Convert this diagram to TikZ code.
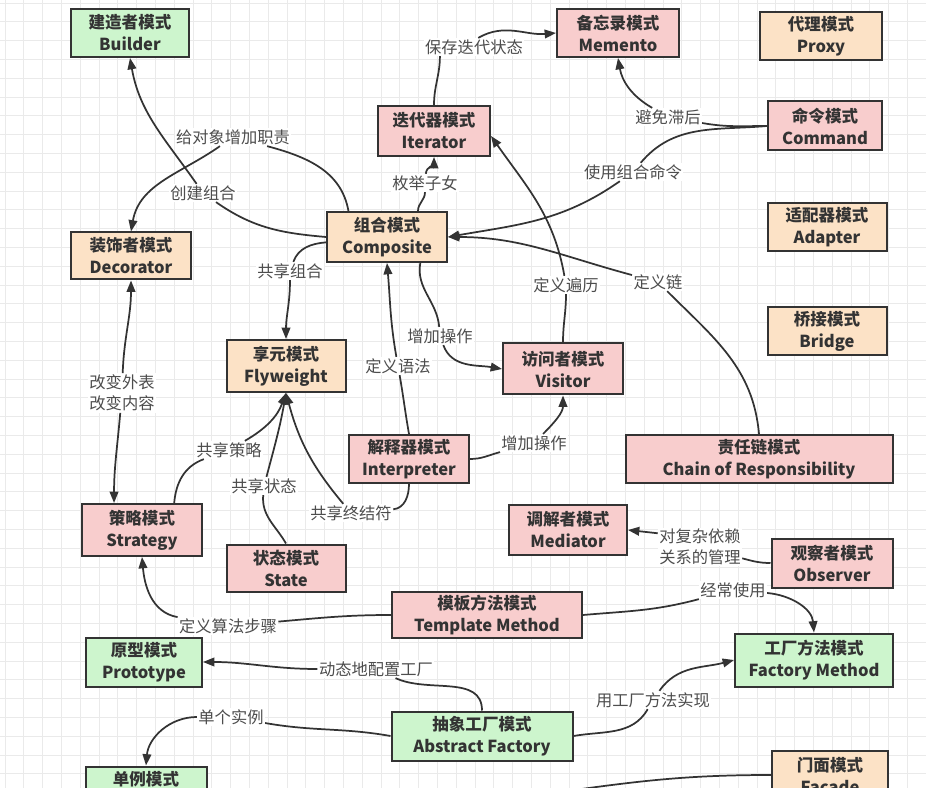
\documentclass[tikz,border=0pt]{standalone}
\usepackage{fontspec}
\setmainfont{Noto Sans CJK SC}
\usepackage{tikz}
\usetikzlibrary{arrows.meta, calc}
\definecolor{pnkfill}{HTML}{F8CDCD}
\definecolor{pchfill}{HTML}{FCE2C6}
\definecolor{grnfill}{HTML}{CDF5CD}
\definecolor{inkgray}{HTML}{333333}
\definecolor{lblgray}{HTML}{4D4D4D}
\definecolor{gridgray}{HTML}{EAEAEA}

\begin{document}
\begin{tikzpicture}[x=0.75pt,y=0.75pt,
  box/.style={draw=inkgray, line width=1.5pt, align=center, inner sep=0pt,
    text=inkgray, font=\bfseries\fontsize{12.4}{16.5}\selectfont},
  lbl/.style={fill=white, inner sep=1pt, align=center, text=lblgray,
    font=\fontsize{12.2}{16}\selectfont},
  link/.style={draw=inkgray, line width=1.3pt},
  arr/.style={link, -{Triangle[length=8.5pt,width=6.5pt]}}]
  % canvas and grid
  \clip (0,0) rectangle (926,-788);
  \fill[white] (0,0) rectangle (926,-788);
  \foreach \gx in {5,23.8,...,926} \draw[gridgray, line width=0.6pt] (\gx,0) -- (\gx,-788);
  \foreach \gy in {3,21.8,...,788} \draw[gridgray, line width=0.6pt] (0,-\gy) -- (926,-\gy);
  % pattern boxes: name/x/y/width/height/fill/chinese/english
  \foreach \nm/\cx/\cy/\w/\h/\col/\zh/\en in {
    build/130/33/118/48/grnfill/建造者模式/Builder,
    memento/618/33/122/48/pnkfill/备忘录模式/Memento,
    proxy/821/36/122/48/pchfill/代理模式/Proxy,
    iter/434/131/112/50/pnkfill/迭代器模式/Iterator,
    command/825/126/114/49/pnkfill/命令模式/Command,
    comp/387/237/120/50/pchfill/组合模式/Composite,
    deco/131/256/120/47/pchfill/装饰者模式/Decorator,
    adapter/827/227/119/48/pchfill/适配器模式/Adapter,
    fly/286/366/119/52/pchfill/享元模式/Flyweight,
    bridge/827/331/119/48/pchfill/桥接模式/Bridge,
    visitor/563/369/120/51/pnkfill/访问者模式/Visitor,
    interp/409/459/120/48/pnkfill/解释器模式/Interpreter,
    chain/759/459/267/48/pnkfill/责任链模式/Chain of Responsibility,
    strat/142/530/120/52/pnkfill/策略模式/Strategy,
    state/286/568/119/47/pnkfill/状态模式/State,
    medi/568/530/118/50/pnkfill/调解者模式/Mediator,
    obs/832/563/121/49/pnkfill/观察者模式/Observer,
    tmpl/487/615/190/46/pnkfill/模板方法模式/Template Method,
    proto/144/662/116/49/grnfill/原型模式/Prototype,
    fmeth/814/660/158/53/grnfill/工厂方法模式/Factory Method,
    afact/482/736/181/49/grnfill/抽象工厂模式/Abstract Factory,
    single/146/791/121/49/grnfill/单例模式/Singleton,
    facade/830/775/116/49/pchfill/门面模式/Facade
  }{
    \node[box, fill=\col, minimum width=\w*0.75pt, minimum height=\h*0.75pt] (\nm) at (\cx,-\cy) {\zh\\\en};
  }
  % edge labels
  \node[lbl] (lCreate) at (203,-193) {创建组合};
  \node[lbl] (lDuty) at (233,-137) {给对象增加职责};
  \node[lbl] (lEnum) at (425,-183) {枚举子女};
  \node[lbl] (lSave) at (474,-47) {保存迭代状态};
  \node[lbl] (lAvoid) at (668,-117) {避免滞后};
  \node[lbl] (lUseCmd) at (633,-172) {使用组合命令};
  \node[lbl] (lChain) at (658,-282) {定义链};
  \node[lbl] (lAddOp) at (440,-336) {增加操作};
  \node[lbl] (lTrav) at (566,-285) {定义遍历};
  \node[lbl] (lGram) at (398,-366) {定义语法};
  \node[lbl] (lAddOpB) at (534,-443) {增加操作};
  \node[lbl] (lTerm) at (351,-513) {共享终结符};
  \node[lbl] (lState) at (264,-486) {共享状态};
  \node[lbl] (lStrat) at (229,-450) {共享策略};
  \node[lbl] (lShare) at (290,-271) {共享组合};
  \node[lbl] (lSkin) at (122,-393) {改变外表\\改变内容};
  \node[lbl] (lAlgo) at (228,-626) {定义算法步骤};
  \node[lbl] (lOften) at (733,-590) {经常使用};
  \node[lbl] (lDep) at (700,-547) {对复杂依赖\\关系的管理};
  \node[lbl] (lConf) at (376,-669) {动态地配置工厂};
  \node[lbl] (lOne) at (231,-717) {单个实例};
  \node[lbl] (lImpl) at (653,-700) {用工厂方法实现};
  \coordinate (fcIn) at (560,-792);
  % connectors
  \draw[link] (comp.west) to[out=175,in=-35] (lCreate);
  \draw[arr] (lCreate) to[out=125,in=-80] (build.south);
  \draw[link] (comp.146) to[out=100,in=-15] (lDuty);
  \draw[arr] (lDuty) to[out=215,in=80] (deco.north);
  \draw[link] (comp.40) to[out=90,in=-90] (lEnum);
  \draw[arr] (lEnum) to[out=85,in=-90] (iter.south);
  \draw[link] (iter.north) to[out=90,in=-90] (lSave.195);
  \draw[arr] (lSave.65) to[out=30,in=185] (memento.west);
  \draw[link] (command.west) to[out=180,in=-10] (lAvoid);
  \draw[arr] (lAvoid) to[out=150,in=-80] (memento.south);
  \draw[link] (command.west) to[out=185,in=50] (lUseCmd);
  \draw[arr] (lUseCmd) to[out=215,in=10] (comp.east);
  \draw[link] (chain.north) to[out=95,in=-45] (lChain);
  \draw[arr] (lChain) to[out=165,in=0] (comp.east);
  \draw[link] (comp.-38) to[out=-100,in=95] (lAddOp);
  \draw[arr] (lAddOp) to[out=-70,in=170] (visitor.west);
  \draw[link] (visitor.north) to[out=90,in=-90] (lTrav);
  \draw[arr] (lTrav) to[out=100,in=-55] (iter.-5);
  \draw[link] (interp.north) to[out=100,in=-80] (lGram);
  \draw[arr] (lGram) to[out=100,in=-85] (comp.south);
  \draw[link] (interp.east) to[out=0,in=195] (lAddOpB);
  \draw[arr] (lAddOpB) to[out=45,in=-90] (visitor.south);
  \draw[link] (interp.south) to[out=-90,in=5] (lTerm);
  \draw[arr] (lTerm) to[out=130,in=-75] (fly.south);
  \draw[link] (state.north) to[out=120,in=-95] (lState);
  \draw[arr] (lState) to[out=75,in=-100] (fly.south);
  \draw[link] (strat.40) to[out=85,in=-160] (lStrat);
  \draw[arr] (lStrat) to[out=30,in=-110] (fly.south);
  \draw[link] (comp.185) to[out=185,in=70] (lShare);
  \draw[arr] (lShare) to[out=-90,in=90] (fly.north);
  \draw[arr] (lSkin) to[out=88,in=-90] (deco.south);
  \draw[arr] (lSkin) to[out=-95,in=90] (strat.136);
  \draw[link] (tmpl.west) to[out=180,in=5] (lAlgo);
  \draw[arr] (lAlgo) to[out=170,in=-85] (strat.south);
  \draw[link] (tmpl.east) to[out=5,in=195] (lOften);
  \draw[arr] (lOften) to[out=-5,in=95] (fmeth.north);
  \draw[link] (obs.west) to[out=180,in=-15] (lDep);
  \draw[arr] (lDep.162) -- (medi.east);
  \draw[link] (afact.north) to[out=90,in=-25] (lConf);
  \draw[arr] (lConf.west) to[out=180,in=0] (proto.east);
  \draw[link] (afact.west) to[out=170,in=-10] (lOne);
  \draw[arr] (lOne) to[out=180,in=85] (single.north);
  \draw[link] (afact.east) to[out=10,in=-120] (lImpl);
  \draw[arr] (lImpl) to[out=55,in=195] (fmeth.west);
  \draw[link] (fcIn) to[out=8,in=180] (facade.west);
\end{tikzpicture}
\end{document}
